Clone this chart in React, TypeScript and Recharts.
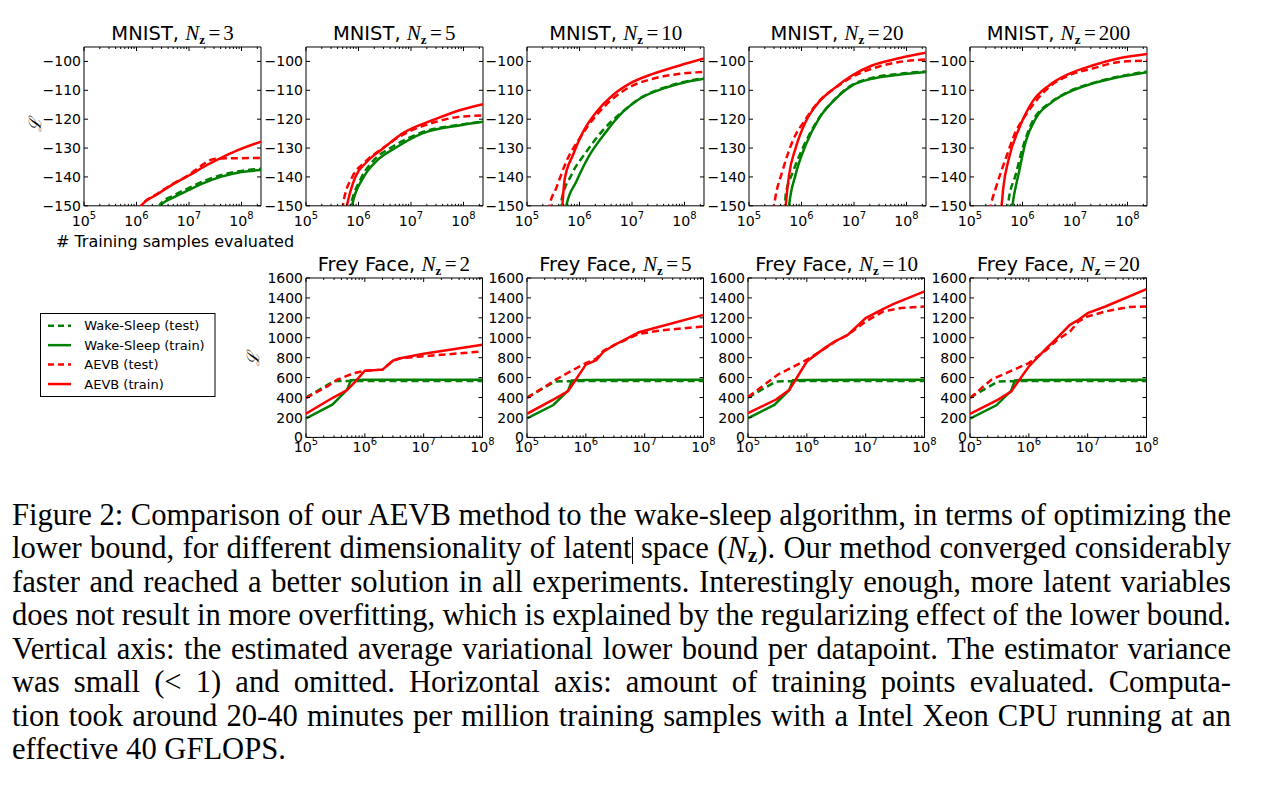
import React from "react";
import { LineChart, Line, XAxis, YAxis, ReferenceArea } from "recharts";

type Pt = [number, number];

const GREEN = "#008000";
const RED = "#ff0000";

// ---- MNIST, Nz = 3
const m3WsTest: Pt[] = [[2.6e6, -150.5], [2.9e6, -149.2], [5.0e6, -146.5], [1.0e7, -143.8], [2.0e7, -141.3], [4.0e7, -139.4], [1.0e8, -137.9], [2.35e8, -137.2]];
const m3WsTrain: Pt[] = [[2.6e6, -151], [2.9e6, -149.8], [5.0e6, -147.2], [1.0e7, -144.5], [2.0e7, -142], [4.0e7, -140], [1.0e8, -138.3], [2.35e8, -137.6]];
const m3AevbTest: Pt[] = [[1.15e6, -152], [1.23e6, -150], [2.5e6, -145.8], [5.0e6, -142.3], [1.0e7, -139.3], [1.6e7, -136.5], [2.5e7, -134.2], [4.0e7, -133.6], [1.0e8, -133.5], [2.35e8, -133.4]];
const m3AevbTrain: Pt[] = [[1.15e6, -152], [1.23e6, -150], [2.5e6, -146], [5.0e6, -142.5], [1.0e7, -139.5], [2.0e7, -136.3], [4.0e7, -133.5], [7.9e7, -131], [2.35e8, -127.8]];

// ---- MNIST, Nz = 5
const m5WsTest: Pt[] = [[6.6e5, -152], [7.0e5, -150], [1.15e6, -140], [2.0e6, -134], [4.5e6, -129.5], [1.6e7, -124.6], [9.3e7, -121.8], [2.35e8, -120.8]];
const m5WsTrain: Pt[] = [[7.2e5, -152], [7.5e5, -150], [1.26e6, -140], [2.2e6, -134.5], [5.0e6, -130], [1.6e7, -125], [9.3e7, -122], [2.35e8, -120.9]];
const m5AevbTest: Pt[] = [[4.9e5, -151.5], [5.2e5, -148.5], [7.6e5, -140], [1.3e6, -135], [2.9e6, -130], [6.8e6, -125.5], [2.9e7, -121], [8.1e7, -119.2], [2.35e8, -118.7]];
const m5AevbTrain: Pt[] = [[5.7e5, -152], [6.0e5, -150], [8.7e5, -140], [1.4e6, -135], [3.0e6, -130], [6.8e6, -125], [2.9e7, -120], [8.1e7, -117], [2.35e8, -114.8]];

// ---- MNIST, Nz = 10
const m10WsTest: Pt[] = [[4.3e5, -152], [4.5e5, -148.5], [7.0e5, -139.3], [1.35e6, -131.3], [2.8e6, -123.8], [6.7e6, -117.3], [1.4e7, -112.8], [3.9e7, -109.2], [1.08e8, -106.9], [2.35e8, -105.8]];
const m10WsTrain: Pt[] = [[5.4e5, -152], [5.6e5, -150], [8.7e5, -141.6], [1.56e6, -132.4], [3.2e6, -124.4], [6.7e6, -117.5], [1.4e7, -112.9], [3.9e7, -109.4], [1.08e8, -107.1], [2.35e8, -106]];
const m10AevbTest: Pt[] = [[2.6e5, -152], [2.7e5, -150], [3.6e5, -143.9], [5.6e5, -134.7], [1.0e6, -126.7], [2.1e6, -118.6], [4.3e6, -112.9], [9.0e6, -108.9], [2.5e7, -106], [8.1e7, -104.3], [2.35e8, -103.6]];
const m10AevbTrain: Pt[] = [[4.6e5, -152], [4.7e5, -150], [5.2e5, -141], [7.5e5, -132.4], [1.17e6, -124.4], [2.1e6, -117.5], [4.3e6, -111.7], [9.0e6, -107.7], [2.5e7, -104.3], [8.1e7, -101.4], [2.35e8, -99]];

// ---- MNIST, Nz = 20
const m20WsTest: Pt[] = [[4.8e5, -152], [5.0e5, -146.2], [6.9e5, -138.2], [1.05e6, -130.1], [2.0e6, -120.5], [4.5e6, -112.7], [9.3e6, -108.1], [2.2e7, -105.7], [7.2e7, -104.3], [2.35e8, -103.5]];
const m20WsTrain: Pt[] = [[5.7e5, -152], [5.8e5, -150], [7.7e5, -139.3], [1.2e6, -129], [2.15e6, -119.8], [4.5e6, -112.9], [9.3e6, -108.3], [2.2e7, -106], [7.2e7, -104.6], [2.35e8, -103.7]];
const m20AevbTest: Pt[] = [[2.9e5, -152], [3.0e5, -150], [3.2e5, -146.8], [4.3e5, -138.2], [6.7e5, -127.8], [1.2e6, -120], [2.15e6, -113.8], [4.5e6, -109], [9.3e6, -105.3], [2.2e7, -102.5], [7.2e7, -100.2], [2.35e8, -99.3]];
const m20AevbTrain: Pt[] = [[4.9e5, -152], [5.0e5, -150], [5.8e5, -139.3], [7.7e5, -130.1], [1.2e6, -120.9], [2.15e6, -114], [4.5e6, -108.9], [9.3e6, -104.8], [2.2e7, -101.4], [7.2e7, -98.9], [2.35e8, -97]];

// ---- MNIST, Nz = 200
const m200WsTest: Pt[] = [[5.2e5, -152], [5.4e5, -148.5], [7.4e5, -139.3], [1.0e6, -130.1], [1.54e6, -120.9], [3.7e6, -113.8], [7.7e6, -110.4], [2.14e7, -107.5], [6.9e7, -105.2], [2.35e8, -103.5]];
const m200WsTrain: Pt[] = [[6.2e5, -152], [6.4e5, -150], [8.6e5, -138.2], [1.15e6, -127.8], [1.78e6, -119.8], [3.7e6, -114], [7.7e6, -110.6], [2.14e7, -107.7], [6.9e7, -105.4], [2.35e8, -103.7]];
const m200AevbTest: Pt[] = [[2.4e5, -152], [2.5e5, -150], [3.1e5, -143.9], [4.8e5, -133.6], [7.4e5, -124.4], [1.15e6, -118.6], [3.2e6, -108.9], [7.7e6, -104.8], [2.14e7, -102.5], [6.9e7, -100.2], [2.35e8, -99.7]];
const m200AevbTrain: Pt[] = [[3.9e5, -152], [4.0e5, -150], [4.3e5, -143.9], [5.5e5, -133.6], [8.6e5, -123.2], [1.54e6, -114], [3.2e6, -108.3], [7.7e6, -104.3], [2.14e7, -101.4], [6.9e7, -98.9], [2.35e8, -97.4]];

// ---- Frey Face, Nz = 2
const ff2WsTest: Pt[] = [[1e5, 400], [3e5, 565], [1e6, 567], [1e7, 566], [1e8, 567]];
const ff2WsTrain: Pt[] = [[1e5, 190], [2.8e5, 328], [5e5, 478], [5.8e5, 575], [1e6, 578], [1e7, 578], [1e8, 579]];
const ff2AevbTest: Pt[] = [[1e5, 395], [2.3e5, 512], [3.4e5, 579], [6.5e5, 645], [1e6, 669], [2e6, 680], [3e6, 770], [4e6, 795], [2e7, 829], [1e8, 863]];
const ff2AevbTrain: Pt[] = [[1e5, 237], [2.8e5, 395], [5e5, 475], [7e5, 565], [1e6, 670], [2e6, 680], [3e6, 770], [4e6, 795], [1e7, 840], [1e8, 930]];

// ---- Frey Face, Nz = 5
const ff5WsTest: Pt[] = [[1e5, 400], [3e5, 562], [1e6, 566], [1e7, 566], [1e8, 567]];
const ff5WsTrain: Pt[] = [[1e5, 190], [2.8e5, 325], [5e5, 470], [5.8e5, 572], [1e6, 577], [1e7, 578], [1e8, 578]];
const ff5AevbTest: Pt[] = [[1e5, 395], [3e5, 575], [5e5, 650], [1e6, 745], [1.5e6, 790], [2e6, 870], [3e6, 925], [8e6, 1040], [2e7, 1075], [1e8, 1114]];
const ff5AevbTrain: Pt[] = [[1e5, 237], [3e5, 390], [5e5, 465], [1e6, 730], [1.5e6, 775], [2e6, 860], [3e6, 925], [8e6, 1055], [1e8, 1230]];

// ---- Frey Face, Nz = 10
const ff10WsTest: Pt[] = [[1e5, 400], [3e5, 562], [1e6, 566], [1e7, 566], [1e8, 567]];
const ff10WsTrain: Pt[] = [[1e5, 192], [2.8e5, 326], [5e5, 472], [5.8e5, 573], [1e6, 577], [1e7, 578], [1e8, 578]];
const ff10AevbTest: Pt[] = [[1e5, 405], [3.2e5, 629], [1e6, 780], [2e6, 890], [3e6, 960], [5e6, 1030], [1e7, 1164], [2e7, 1264], [4e7, 1298], [1e8, 1314]];
const ff10AevbTrain: Pt[] = [[1e5, 244], [3e5, 380], [5e5, 475], [1e6, 762], [2e6, 896], [3e6, 963], [5e6, 1030], [1e7, 1197], [2e7, 1290], [3e7, 1340], [1e8, 1465]];

// ---- Frey Face, Nz = 20
const ff20WsTest: Pt[] = [[1e5, 400], [3e5, 562], [1e6, 566], [1e7, 566], [1e8, 567]];
const ff20WsTrain: Pt[] = [[1e5, 188], [2.8e5, 322], [5e5, 468], [5.8e5, 572], [1e6, 577], [1e7, 578], [1e8, 578]];
const ff20AevbTest: Pt[] = [[1e5, 395], [2.3e5, 579], [1e6, 746], [2e6, 880], [3e6, 975], [5e6, 1063], [7e6, 1164], [1e7, 1214], [2e7, 1264], [5e7, 1308], [1e8, 1314]];
const ff20AevbTrain: Pt[] = [[1e5, 237], [3e5, 380], [5e5, 461], [1e6, 712], [2e6, 896], [3e6, 997], [5e6, 1130], [7e6, 1181], [1e7, 1247], [2e7, 1314], [1e8, 1488]];

// ---- ticks
const mnistYTicks = [-150, -140, -130, -120, -110, -100];
const freyYTicks = [0, 200, 400, 600, 800, 1000, 1200, 1400, 1600];
const decades = [1e5, 1e6, 1e7, 1e8];
const minorSteps = [1, 2, 3, 4, 5, 6, 7, 8, 9];
const mnistXTicks = decades.flatMap((d) => minorSteps.map((m) => m * d)).filter((v) => v <= 2.35e8);
const freyXTicks = decades.flatMap((d) => minorSteps.map((m) => m * d)).filter((v) => v <= 1e8);

const legendItems = [
  { label: "Wake-Sleep (test)", color: GREEN, dashed: true },
  { label: "Wake-Sleep (train)", color: GREEN, dashed: false },
  { label: "AEVB (test)", color: RED, dashed: true },
  { label: "AEVB (train)", color: RED, dashed: false },
];

const toRows = (pts: Pt[]) => pts.map(([x, y]) => ({ x, y }));

const SANS = "'DejaVu Sans', sans-serif";
const SERIF = "'Liberation Serif', 'Times New Roman', serif";

function XTick(props: any) {
  const { x, y, payload, plotH, labelDy } = props;
  const v = payload.value as number;
  const lg = Math.log10(v);
  const e = Math.round(lg);
  const major = Math.abs(lg - e) < 1e-6;
  const len = major ? 4 : 2;
  return (
    <g>
      <line x1={x} x2={x} y1={y} y2={y - len} stroke="#000" strokeWidth={1} />
      <line x1={x} x2={x} y1={y - plotH} y2={y - plotH + len} stroke="#000" strokeWidth={1} />
      {major && (
        <text x={x} y={y + labelDy} textAnchor="middle" fontFamily={SANS} fontSize={14.2} fill="#000">
          10
          <tspan dy={-7} fontSize={10}>{e}</tspan>
        </text>
      )}
    </g>
  );
}

function YTick(props: any) {
  const { x, y, payload, plotW } = props;
  const v = payload.value as number;
  const label = v < 0 ? "\u2212" + Math.abs(v) : String(v);
  return (
    <g>
      <line x1={x} x2={x + 4} y1={y} y2={y} stroke="#000" strokeWidth={1} />
      <line x1={x + plotW - 4} x2={x + plotW} y1={y} y2={y} stroke="#000" strokeWidth={1} />
      <text x={x - 3} y={y} dy="0.36em" textAnchor="end" fontFamily={SANS} fontSize={14} fill="#000">
        {label}
      </text>
    </g>
  );
}

type Series = { data: Pt[]; color: string; dashed: boolean };

type PanelProps = {
  left: number;
  top: number;
  width: number;
  height: number;
  xMax: number;
  xTicks: number[];
  yDomain: [number, number];
  yTicks: number[];
  series: Series[];
  smooth: boolean;
  labelDy: number;
};

function Panel({ left, top, width, height, xMax, xTicks, yDomain, yTicks, series, smooth, labelDy }: PanelProps) {
  const YW = 50;
  const MT = 12;
  const MR = 14;
  const XH = 30;
  return (
    <div style={{ position: "absolute", left: left - YW, top: top - MT }}>
      <LineChart
        width={width + YW + MR}
        height={height + MT + XH}
        margin={{ top: MT, right: MR, left: 0, bottom: 0 }}
        style={{ overflow: "visible" }}
      >
        <XAxis
          type="number"
          dataKey="x"
          scale="log"
          domain={[1e5, xMax]}
          allowDataOverflow
          ticks={xTicks}
          interval={0}
          axisLine={false}
          tickLine={false}
          tickSize={0}
          tickMargin={0}
          height={XH}
          tick={(p: any) => <XTick {...p} plotH={height} labelDy={labelDy} />}
        />
        <YAxis
          type="number"
          domain={yDomain}
          allowDataOverflow
          ticks={yTicks}
          interval={0}
          axisLine={false}
          tickLine={false}
          tickSize={0}
          tickMargin={0}
          width={YW}
          tick={(p: any) => <YTick {...p} plotW={width} />}
        />
        {series.map((s, i) => (
          <Line
            key={i}
            data={toRows(s.data)}
            dataKey="y"
            type={smooth ? "monotone" : "linear"}
            stroke={s.color}
            strokeWidth={2.5}
            strokeDasharray={s.dashed ? "7 4" : undefined}
            dot={false}
            activeDot={false}
            isAnimationActive={false}
          />
        ))}
        <ReferenceArea
          x1={1e5}
          x2={xMax}
          y1={yDomain[0]}
          y2={yDomain[1]}
          fill="none"
          fillOpacity={0}
          stroke="#000"
          strokeWidth={1}
          ifOverflow="visible"
        />
      </LineChart>
    </div>
  );
}

const four = (wsTest: Pt[], wsTrain: Pt[], aTest: Pt[], aTrain: Pt[]): Series[] => [
  { data: wsTest, color: GREEN, dashed: true },
  { data: wsTrain, color: GREEN, dashed: false },
  { data: aTest, color: RED, dashed: true },
  { data: aTrain, color: RED, dashed: false },
];

const TOP_Y = 46.7;
const TOP_H = 158.8;
const TOP_W = 177;
const BOT_Y = 278.3;
const BOT_H = 159.4;
const BOT_W = 176.5;

const topPanels = [
  { left: 84.1, nz: "3", series: four(m3WsTest, m3WsTrain, m3AevbTest, m3AevbTrain) },
  { left: 305.7, nz: "5", series: four(m5WsTest, m5WsTrain, m5AevbTest, m5AevbTrain) },
  { left: 527.3, nz: "10", series: four(m10WsTest, m10WsTrain, m10AevbTest, m10AevbTrain) },
  { left: 748.5, nz: "20", series: four(m20WsTest, m20WsTrain, m20AevbTest, m20AevbTrain) },
  { left: 970, nz: "200", series: four(m200WsTest, m200WsTrain, m200AevbTest, m200AevbTrain) },
];

const bottomPanels = [
  { left: 305.7, nz: "2", series: four(ff2WsTest, ff2WsTrain, ff2AevbTest, ff2AevbTrain) },
  { left: 527.2, nz: "5", series: four(ff5WsTest, ff5WsTrain, ff5AevbTest, ff5AevbTrain) },
  { left: 748.4, nz: "10", series: four(ff10WsTest, ff10WsTrain, ff10AevbTest, ff10AevbTrain) },
  { left: 970.2, nz: "20", series: four(ff20WsTest, ff20WsTrain, ff20AevbTest, ff20AevbTrain) },
];

function Title({ cx, y, name, nz }: { cx: number; y: number; name: string; nz: string }) {
  return (
    <text x={cx} y={y} textAnchor="middle" fontFamily={SANS} fontSize={19.5} fill="#000">
      {name + ", "}
      <tspan fontFamily={SERIF} fontStyle="italic" fontSize={21}>N</tspan>
      <tspan fontFamily={SERIF} fontWeight="bold" fontSize={13} dy={4}>z</tspan>
      <tspan fontFamily={SERIF} fontSize={21} dy={-4} dx={3.5}>=</tspan>
      <tspan fontFamily={SERIF} fontSize={21} dx={3}>{nz}</tspan>
    </text>
  );
}

function Overlay() {
  return (
    <svg width={1265} height={795} style={{ position: "absolute", left: 0, top: 0, pointerEvents: "none" }}>
      {topPanels.map((p) => (
        <Title key={"t" + p.nz} cx={p.left + TOP_W / 2} y={39.5} name="MNIST" nz={p.nz} />
      ))}
      {bottomPanels.map((p) => (
        <Title key={"b" + p.nz} cx={p.left + BOT_W / 2} y={271} name="Frey Face" nz={p.nz} />
      ))}
      <text x={175} y={246.7} textAnchor="middle" fontFamily={SANS} fontSize={16} fill="#000">
        # Training samples evaluated
      </text>
      <text transform="translate(41,125) rotate(-90)" textAnchor="middle" fontFamily="'DejaVu Serif', serif" fontStyle="italic" fontSize={17} fill="#000">
        ℒ
      </text>
      <text transform="translate(259,359) rotate(-90)" textAnchor="middle" fontFamily="'DejaVu Serif', serif" fontStyle="italic" fontSize={17} fill="#000">
        ℒ
      </text>
      <rect x={40.5} y={313.5} width={174.5} height={83} fill="#fff" stroke="#000" strokeWidth={1} />
      {legendItems.map((it, i) => {
        const yy = 325.7 + i * 19.45;
        return (
          <g key={it.label}>
            <line x1={48} x2={71} y1={yy} y2={yy} stroke={it.color} strokeWidth={2.5} strokeDasharray={it.dashed ? "6 4" : undefined} />
            <text x={84.3} y={yy} dy="0.36em" fontFamily={SANS} fontSize={13} fill="#000">
              {it.label}
            </text>
          </g>
        );
      })}
    </svg>
  );
}

const Nz = () => (
  <span>
    <i>N</i>
    <b style={{ fontSize: "0.7em", verticalAlign: "-0.2em" }}>z</b>
  </span>
);

const LINE_H = 33.45;
// negative word spacing leaves room so each line never wraps; justify stretches it back
const captionLine: React.CSSProperties = {
  textAlign: "justify",
  textAlignLast: "justify",
  height: LINE_H,
  wordSpacing: -4,
  overflow: "visible",
};

function Caption() {
  return (
    <div
      style={{
        position: "absolute",
        left: 12,
        top: 499,
        width: 1219,
        fontFamily: SERIF,
        fontSize: 30.6,
        lineHeight: LINE_H + "px",
        color: "#000",
      }}
    >
      <div style={captionLine}>Figure 2: Comparison of our AEVB method to the wake-sleep algorithm, in terms of optimizing the</div>
      <div style={captionLine}>
        lower bound, for different dimensionality of latent
        <span style={{ display: "inline-block", width: 0, height: 27, borderLeft: "1px solid #000", verticalAlign: "-6px" }} /> space (<Nz />). Our method converged considerably
      </div>
      <div style={captionLine}>faster and reached a better solution in all experiments. Interestingly enough, more latent variables</div>
      <div style={captionLine}>does not result in more overfitting, which is explained by the regularizing effect of the lower bound.</div>
      <div style={captionLine}>Vertical axis: the estimated average variational lower bound per datapoint. The estimator variance</div>
      <div style={captionLine}>was small (&lt; 1) and omitted. Horizontal axis: amount of training points evaluated. Computa-</div>
      <div style={captionLine}>tion took around 20-40 minutes per million training samples with a Intel Xeon CPU running at an</div>
      <div style={{ height: LINE_H }}>effective 40 GFLOPS.</div>
    </div>
  );
}

export default function App() {
  return (
    <div style={{ position: "absolute", left: 0, top: 0, width: 1265, height: 795, background: "#fff", overflow: "hidden" }}>
      {topPanels.map((p) => (
        <Panel
          key={"m" + p.nz}
          left={p.left}
          top={TOP_Y}
          width={TOP_W}
          height={TOP_H}
          xMax={2.35e8}
          xTicks={mnistXTicks}
          yDomain={[-150, -95]}
          yTicks={mnistYTicks}
          series={p.series}
          smooth
          labelDy={20}
        />
      ))}
      {bottomPanels.map((p) => (
        <Panel
          key={"f" + p.nz}
          left={p.left}
          top={BOT_Y}
          width={BOT_W}
          height={BOT_H}
          xMax={1e8}
          xTicks={freyXTicks}
          yDomain={[0, 1600]}
          yTicks={freyYTicks}
          series={p.series}
          smooth={false}
          labelDy={15}
        />
      ))}
      <Overlay />
      <Caption />
    </div>
  );
}
